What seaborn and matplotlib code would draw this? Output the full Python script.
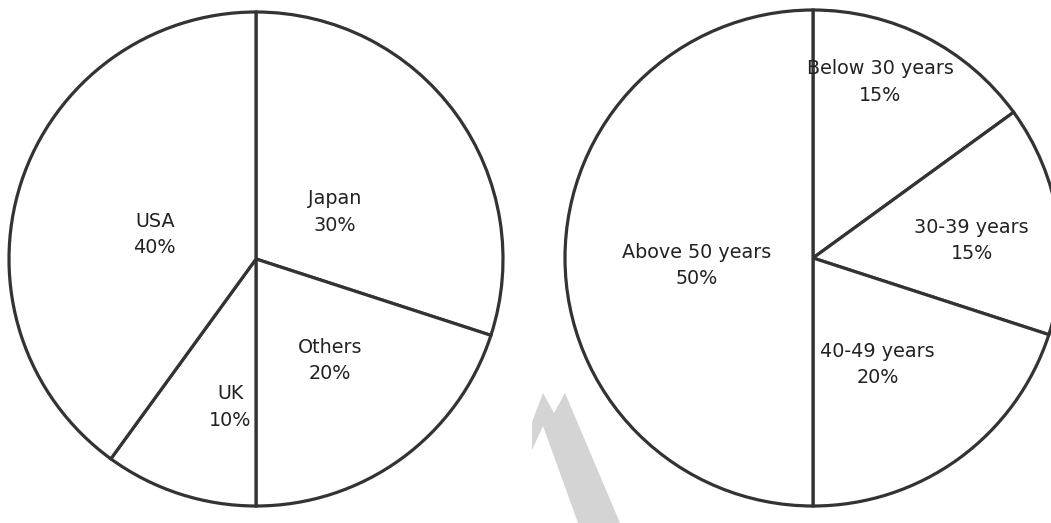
import numpy as np
import seaborn as sns
import matplotlib.pyplot as plt
from matplotlib.patches import Polygon

# left pie: share by country
country_labels = ['Japan', 'Others', 'UK', 'USA']
country_values = [30, 20, 10, 40]

# right pie: share by age group
age_labels = ['Below 30 years', '30-39 years', '40-49 years', 'Above 50 years']
age_values = [15, 15, 20, 50]

# layout (pixels, y measured from top)
W, H = 1051, 523
LEFT_CENTER, LEFT_R = (256, 259), 247
RIGHT_CENTER, RIGHT_R = (813, 258), 248
# label offsets as fraction of radius
country_label_pos = [(0.32, 0.19), (0.30, -0.41), (-0.105, -0.60), (-0.41, 0.10)]
age_label_pos = [(0.27, 0.71), (0.64, 0.07), (0.26, -0.43), (-0.47, -0.03)]

sns.set_style('white')
plt.rcParams['font.family'] = ['DejaVu Sans']

fig = plt.figure(figsize=(W / 100, H / 100), dpi=100)
ax = fig.add_axes([0, 0, 1, 1])

edge = '#333333'


def draw_pie(values, labels, center, radius, label_pos):
    cx, cy = center[0], H - center[1]
    ax.pie(values, colors=['white'] * len(values), startangle=90, counterclock=False,
           center=(cx, cy), radius=radius, frame=True,
           wedgeprops=dict(edgecolor=edge, linewidth=2.3, joinstyle='miter'))
    for (fx, fy), lab, val in zip(label_pos, labels, values):
        ax.text(cx + fx * radius, cy + fy * radius, f'{lab}\n{val}%',
                ha='center', va='center', fontsize=13.8, color='#222222',
                linespacing=1.5)


draw_pie(country_values, country_labels, LEFT_CENTER, LEFT_R, country_label_pos)
draw_pie(age_values, age_labels, RIGHT_CENTER, RIGHT_R, age_label_pos)

# faint watermark stroke
mark = np.array([(532, 422), (543, 393), (554, 413), (565, 393), (620, 523),
                 (578, 523), (543, 426), (532, 450)], dtype=float)
mark[:, 1] = H - mark[:, 1]
ax.add_patch(Polygon(mark, closed=True, facecolor='#d4d4d4', edgecolor='none', zorder=0))

ax.set_xlim(0, W)
ax.set_ylim(0, H)
ax.set_aspect('equal')
ax.axis('off')

fig.savefig('out.png', dpi=100, facecolor='white')
plt.close(fig)
